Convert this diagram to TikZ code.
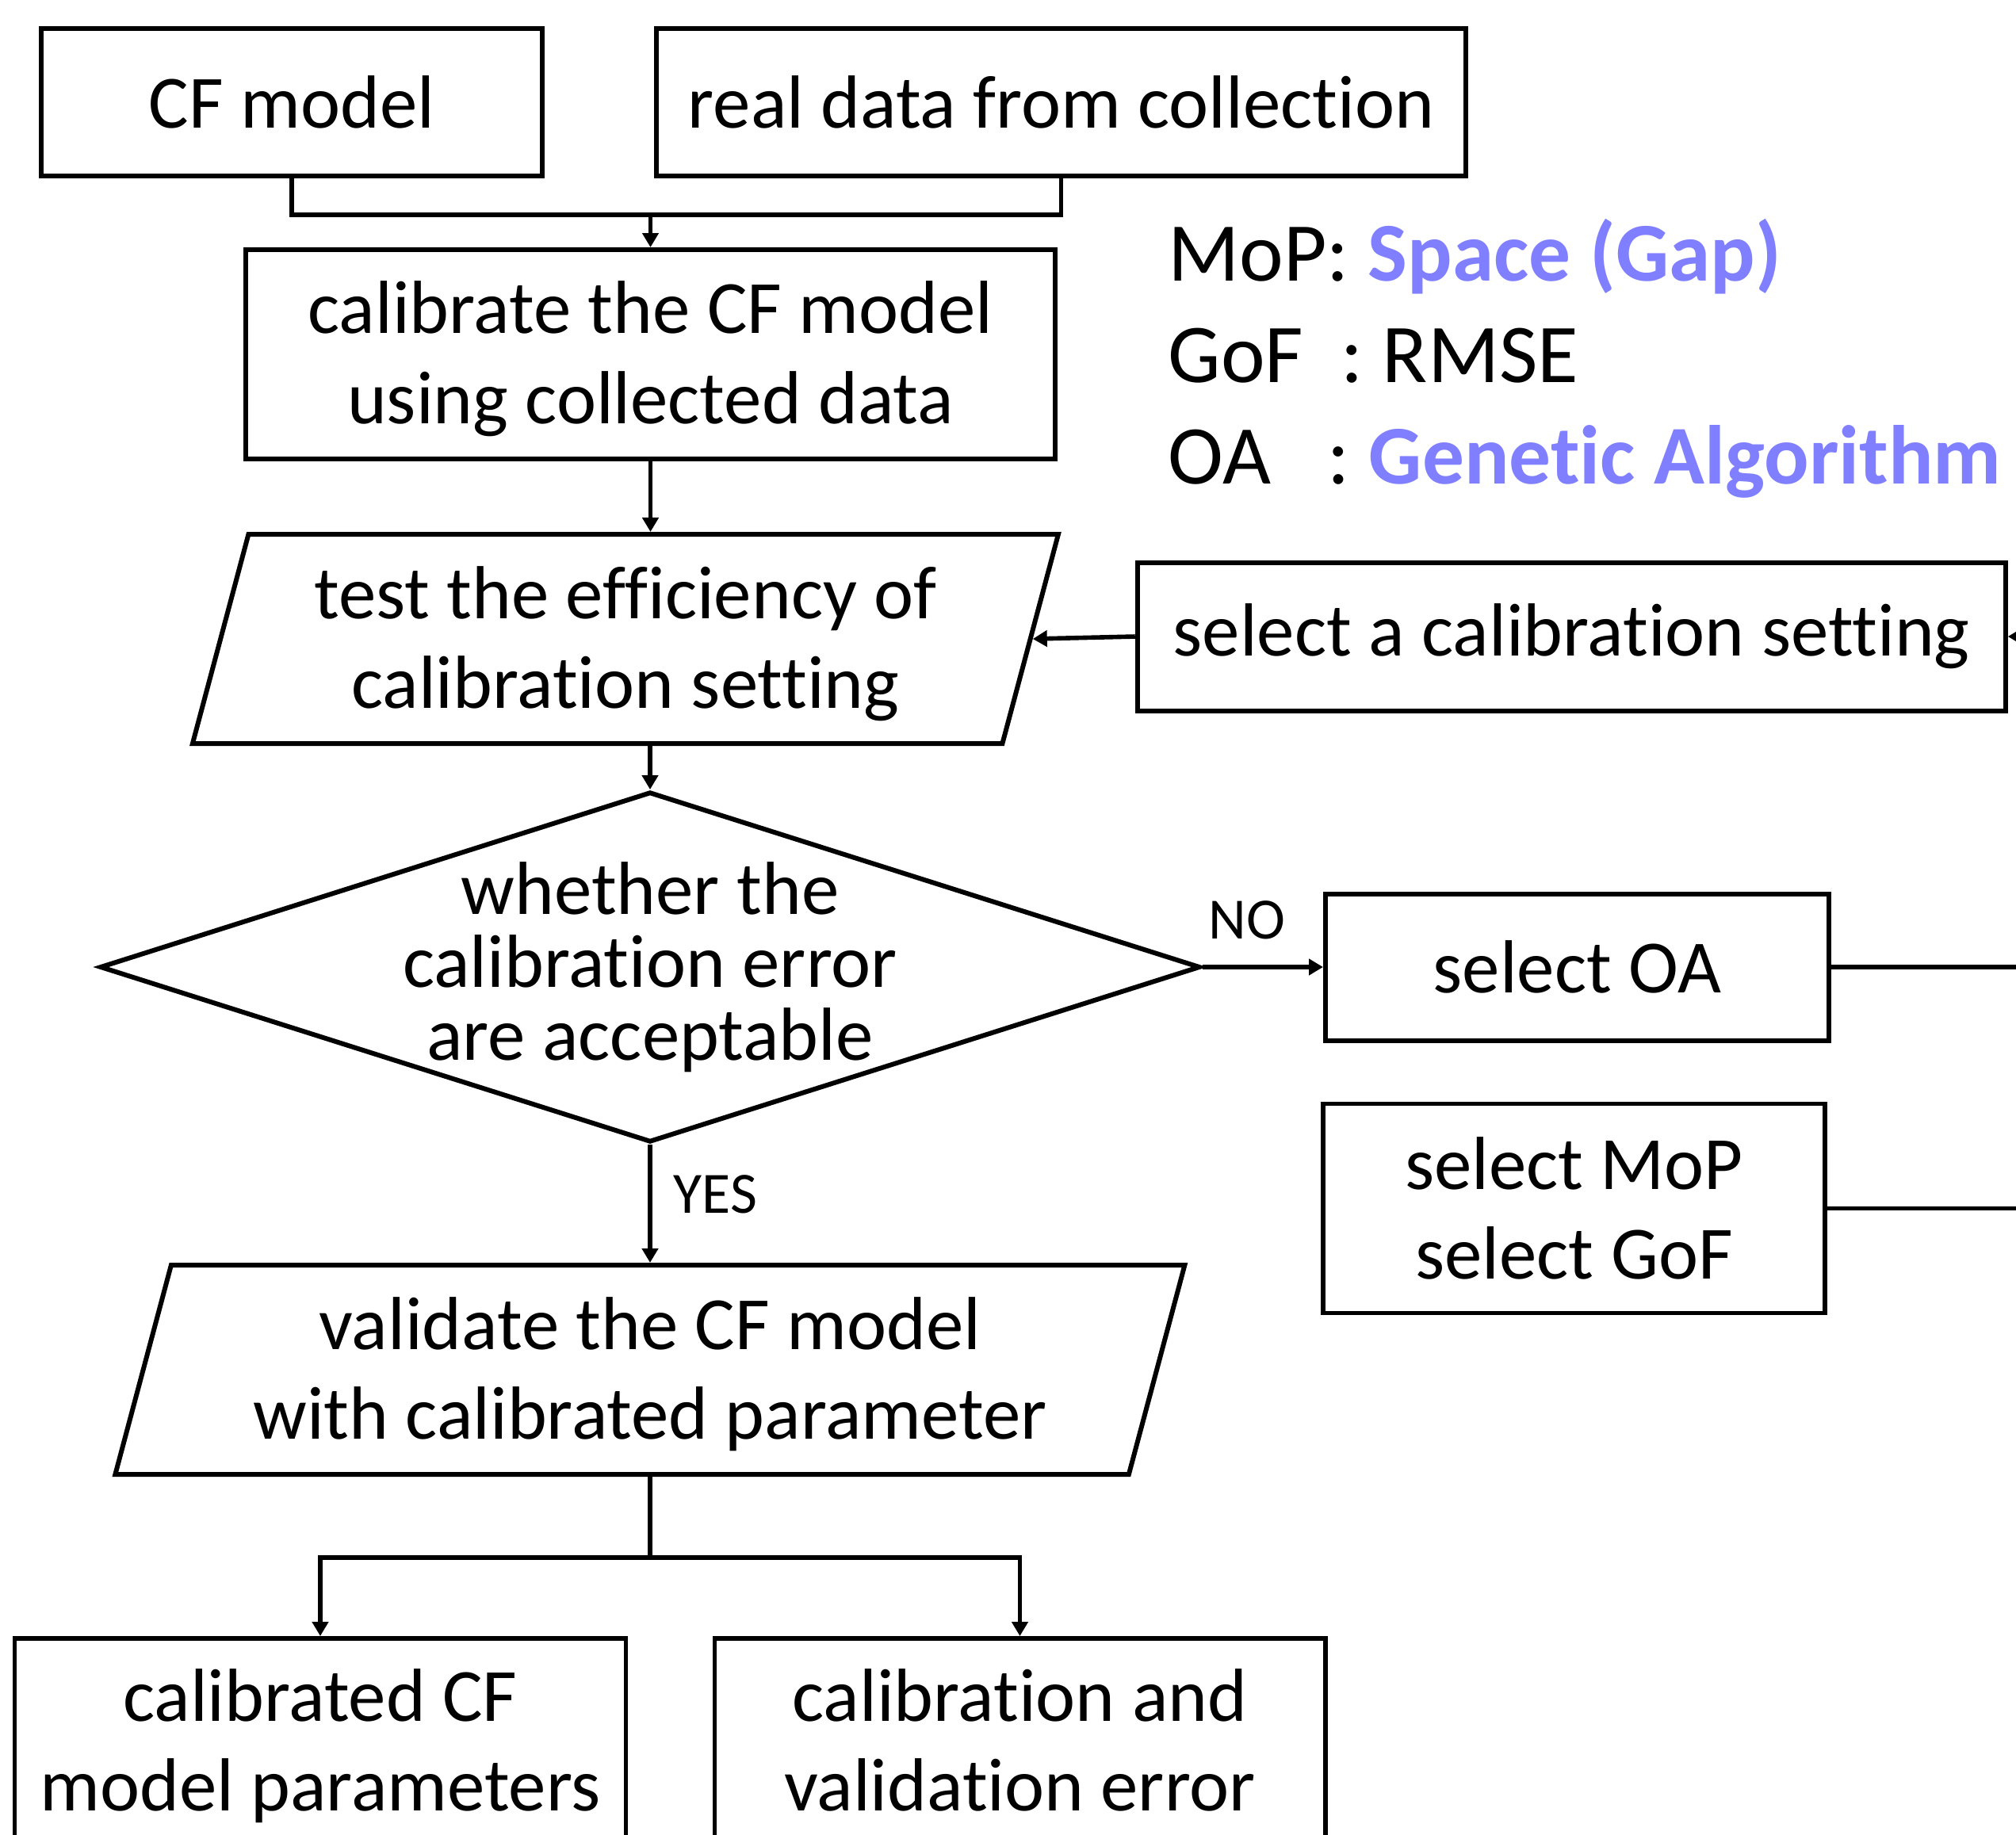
\documentclass[tikz,border=0pt]{standalone}
\usepackage{fontspec}
\setmainfont{Carlito}[Ligatures=NoCommon]
\usetikzlibrary{shapes.geometric, arrows.meta, positioning, calc}
\definecolor{cHigh}{HTML}{7F7FFF}
\newcommand{\boxfont}{\fontsize{27pt}{32.3pt}\selectfont}
\newcommand{\notefont}{\fontsize{30pt}{36pt}\selectfont}
\newcommand{\tagfont}{\fontsize{21pt}{25pt}\selectfont}
\tikzset{
  box/.style={
    rectangle, draw, line width=1.7pt, minimum width=#1,
    minimum height=1.86cm, align=center, font=\boxfont, inner sep=0pt
  },
  box/.default=6.3cm,
  tallbox/.style={box=#1, minimum height=2.64cm, text height=1.96cm, text depth=0.21cm},
  iobox/.style={
    trapezium, trapezium left angle=72, trapezium right angle=108,
    trapezium stretches body=true, draw, line width=1.7pt,
    minimum width=#1, minimum height=2.64cm, align=center,
    font=\boxfont, inner sep=0pt, text height=1.96cm, text depth=0.21cm
  },
  decision/.style={
    diamond, draw, line width=1.7pt, minimum width=13.88cm,
    minimum height=4.42cm, inner sep=0pt
  },
  dtext/.style={align=center, font={\fontsize{27pt}{26.2pt}\selectfont}},
  arrow/.style={-{Triangle[length=0.18cm, width=0.2cm]}, line width=1.6pt},
  line/.style={line width=1.6pt},
  tag/.style={font=\tagfont, inner sep=0pt},
  note/.style={font=\notefont, anchor=base west, inner sep=0pt},
}
\begin{document}
\begin{tikzpicture}
  \path[use as bounding box, clip] (0,0) rectangle (25.43,-23.15);

  % Inputs
  \node[box=6.32cm] (cf) at (3.68,-1.29) {CF model};
  \node[box=10.21cm, right=1.38cm of cf] (data) {real data from collection};

  % Main chain
  \node[tallbox=10.21cm] (calib) at (8.205,-4.47) {
    calibrate the CF model\\
    using collected data
  };
  \node[iobox=10.92cm, below=0.89cm of calib, xshift=-0.315cm] (test) {
    test the efficiency of\\
    calibration setting
  };
  \node[decision, below=0.55cm of test, xshift=0.31cm,
        label={[dtext]center:{whether the\\calibration error\\are acceptable}}] (check) {};
  \node[iobox=13.49cm, below=1.49cm of check] (valid) {
    validate the CF model\\
    with calibrated parameter
  };

  % Outputs
  \node[tallbox=7.71cm, minimum height=2.6cm, below=2.01cm of valid, xshift=-4.16cm] (params) {
    calibrated CF\\
    model parameters
  };
  \node[tallbox=7.70cm, minimum height=2.6cm, below=2.01cm of valid, xshift=4.665cm] (errors) {
    calibration and\\
    validation error
  };

  % Right side
  \node[box=10.95cm, minimum height=1.87cm, right=1.29cm of test, yshift=0.03cm] (setting) {select a calibration setting};
  \node[box=6.35cm, minimum height=1.85cm, right=1.52cm of check] (oa) {select OA};
  \node[box=6.33cm, minimum height=2.64cm, below=0.74cm of oa, xshift=-0.04cm] (mopgof) {
    select MoP\\
    select GoF
  };

  % Current choice
  \node[note] (mop) at (14.73,-3.54) {MoP: \textcolor{cHigh}{\bfseries Space (Gap)}};
  \node[note] (gof) at (14.73,-4.82) {GoF~~: RMSE};
  \node[note] (oanote) at (14.73,-6.10) {OA~~~: \textcolor{cHigh}{\bfseries Genetic Algorithm}};

  % Arrows
  \draw[line] (cf.south) -- ++(0,-0.46) coordinate (merge) -| (data.south);
  \draw[arrow] (calib.north |- merge) -- (calib.north);
  \draw[arrow] (calib.south) -- (calib.south |- test.north);
  \draw[arrow] (setting.west) -- (test.east);
  \draw[arrow] (check.north |- test.south) -- (check.north);
  \draw[arrow] (check.east) -- node[tag, above=0.32cm, pos=0.37] {NO} (oa.west);
  \draw[arrow] (check.south) -- node[tag, right=0.27cm, pos=0.42] {YES} (valid.north);
  \draw[line] (valid.south) -- ++(0,-1.02) coordinate (split);
  \draw[arrow] (split) -| (params.north);
  \draw[arrow] (split) -| (errors.north);

  % Loop back (runs off the right edge)
  \coordinate (loop) at ([xshift=0.6cm]setting.east);
  \draw[line] (oa.east) -- (oa.east -| loop);
  \draw[arrow] (mopgof.east) -- (mopgof.east -| loop) |- (setting.east);

\end{tikzpicture}
\end{document}
